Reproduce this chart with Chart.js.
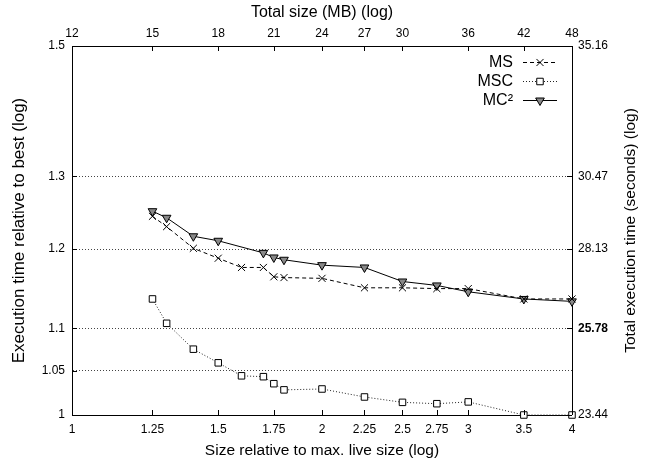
<!DOCTYPE html>
<html>
<head>
<meta charset="utf-8">
<script src="https://cdn.jsdelivr.net/npm/chart.js@4.4.1/dist/chart.umd.min.js"></script>
<style>
html, body { margin: 0; padding: 0; background: #fff; }
</style>
</head>
<body>
<canvas id="chart" width="650" height="464"></canvas>
<script>
// x: size relative to max. live size
var sizes = [1.25, 1.3, 1.4, 1.5, 1.6, 1.7, 1.75, 1.8, 2, 2.25, 2.5, 2.75, 3, 3.5, 4];
// execution time relative to best
var msTimes  = [1.244, 1.230, 1.201, 1.188, 1.176, 1.176, 1.164, 1.163, 1.162, 1.150, 1.150, 1.149, 1.149, 1.136, 1.136];
var mscTimes = [1.136, 1.106, 1.075, 1.059, 1.044, 1.043, 1.035, 1.028, 1.029, 1.020, 1.014, 1.0125, 1.0145, 1.0, 1.0];
var mc2Times = [1.251, 1.242, 1.217, 1.211, null, 1.195, 1.189, 1.186, 1.179, 1.176, 1.158, 1.153, 1.145, 1.136, 1.133];

var xTicks = [1, 1.25, 1.5, 1.75, 2, 2.25, 2.5, 2.75, 3, 3.5, 4];
var topTicks = [12, 15, 18, 21, 24, 27, 30, 36, 42, 48];
var yTicks = [1, 1.05, 1.1, 1.2, 1.3, 1.5];
var rightTicks = [23.44, 25.78, 28.13, 30.47, 35.16];

var FONT = "'Liberation Sans', Arial, sans-serif";
Chart.defaults.font.family = FONT;
Chart.defaults.color = '#000';

function points(ys) {
    var out = [];
    for (var i = 0; i < sizes.length; i++) {
        if (ys[i] !== null) out.push({x: sizes[i], y: ys[i]});
    }
    return out;
}

function setTicks(list) {
    return function(scale) {
        scale.ticks = list.map(function(v) { return {value: v}; });
    };
}

// gnuplot style ticks pointing into the plot
var innerTicks = {
    id: 'innerTicks',
    afterDatasetsDraw: function(chart) {
        var ctx = chart.ctx, a = chart.chartArea, len = 5;
        ctx.save();
        ctx.strokeStyle = '#000';
        ctx.lineWidth = 1;
        ctx.beginPath();
        chart.scales.x.ticks.forEach(function(t) {
            var p = Math.round(chart.scales.x.getPixelForValue(t.value)) + 0.5;
            ctx.moveTo(p, a.bottom); ctx.lineTo(p, a.bottom - len);
        });
        chart.scales.x2.ticks.forEach(function(t) {
            var p = Math.round(chart.scales.x2.getPixelForValue(t.value)) + 0.5;
            ctx.moveTo(p, a.top); ctx.lineTo(p, a.top + len);
        });
        chart.scales.y.ticks.forEach(function(t) {
            var p = Math.round(chart.scales.y.getPixelForValue(t.value)) + 0.5;
            ctx.moveTo(a.left, p); ctx.lineTo(a.left + len, p);
        });
        chart.scales.y2.ticks.forEach(function(t) {
            var p = Math.round(chart.scales.y2.getPixelForValue(t.value)) + 0.5;
            ctx.moveTo(a.right, p); ctx.lineTo(a.right - len, p);
        });
        ctx.stroke();
        ctx.restore();
    }
};

// key in the top right corner, text left of the sample
var keyBox = {
    id: 'keyBox',
    afterDatasetsDraw: function(chart) {
        var ctx = chart.ctx;
        var textX = 513, x1 = 523, x2 = 557, y0 = 62, step = 19;
        ctx.save();
        ctx.font = '16px ' + FONT;
        ctx.textAlign = 'right';
        ctx.textBaseline = 'middle';
        chart.data.datasets.forEach(function(ds, i) {
            var y = y0 + i * step;
            ctx.fillStyle = '#000';
            ctx.fillText(ds.label, textX, y + 1);
            ctx.strokeStyle = ds.borderColor;
            ctx.lineWidth = 1;
            ctx.setLineDash(ds.borderDash || []);
            ctx.beginPath();
            ctx.moveTo(x1, y + 0.5); ctx.lineTo(x2, y + 0.5);
            ctx.stroke();
            ctx.setLineDash([]);
            ctx.fillStyle = ds.pointBackgroundColor;
            ctx.strokeStyle = ds.pointBorderColor;
            ctx.lineWidth = ds.pointBorderWidth;
            Chart.helpers.drawPoint(ctx, {
                pointStyle: ds.pointStyle, radius: ds.pointRadius,
                rotation: ds.pointRotation || 0, borderWidth: ds.pointBorderWidth
            }, (x1 + x2) / 2, y + 0.5);
        });
        ctx.restore();
    }
};

// right axis title, reading bottom to top
var rightTitle = {
    id: 'rightTitle',
    afterDraw: function(chart) {
        var ctx = chart.ctx, a = chart.chartArea;
        ctx.save();
        ctx.translate(631, (a.top + a.bottom) / 2);
        ctx.rotate(-Math.PI / 2);
        ctx.font = '15.5px ' + FONT;
        ctx.fillStyle = '#000';
        ctx.textAlign = 'center';
        ctx.textBaseline = 'middle';
        ctx.fillText('Total execution time (seconds) (log)', 0, 0);
        ctx.restore();
    }
};

new Chart(document.getElementById('chart'), {
    type: 'line',
    data: {
        datasets: [
            {
                label: 'MS', data: points(msTimes),
                borderColor: '#000', borderWidth: 1, borderDash: [4, 3],
                pointStyle: 'crossRot', pointRadius: 5, pointBorderWidth: 1,
                pointBorderColor: '#000', pointBackgroundColor: '#000',
                clip: false, tension: 0
            },
            {
                label: 'MSC', data: points(mscTimes),
                borderColor: '#222', borderWidth: 1, borderDash: [1, 2],
                pointStyle: 'rect', pointRadius: 4.6, pointBorderWidth: 1,
                pointBorderColor: '#000', pointBackgroundColor: '#fff',
                clip: false, tension: 0
            },
            {
                label: 'MC\u00b2', data: points(mc2Times),
                borderColor: '#000', borderWidth: 1,
                pointStyle: 'triangle', pointRotation: 180, pointRadius: 5, pointBorderWidth: 1,
                pointBorderColor: '#000', pointBackgroundColor: '#888',
                clip: false, tension: 0
            }
        ]
    },
    options: {
        responsive: false,
        animation: false,
        layout: { padding: 0 },
        plugins: { legend: { display: false }, tooltip: { enabled: false } },
        scales: {
            x: {
                type: 'logarithmic', position: 'bottom', min: 1, max: 4, bounds: 'data',
                afterBuildTicks: setTicks(xTicks),
                afterFit: function(s) { s.height = 49; },
                grid: { display: false, drawTicks: false },
                border: { display: true, color: '#000', width: 1 },
                ticks: { autoSkip: false, maxRotation: 0, padding: 7, font: { size: 12 },
                         callback: function(v) { return String(v); } },
                title: { display: true, text: 'Size relative to max. live size (log)',
                         font: { size: 15.5 }, padding: { top: 0, bottom: 4 } }
            },
            x2: {
                type: 'logarithmic', position: 'top', min: 12, max: 48, bounds: 'data',
                afterBuildTicks: setTicks(topTicks),
                afterFit: function(s) { s.height = 46; },
                grid: { display: false, drawTicks: false },
                border: { display: true, color: '#000', width: 1 },
                ticks: { autoSkip: false, maxRotation: 0, padding: 5, font: { size: 12 },
                         callback: function(v) { return String(v); } },
                title: { display: true, text: 'Total size (MB) (log)',
                         font: { size: 16 }, padding: { top: 3, bottom: 0 } }
            },
            y: {
                type: 'logarithmic', position: 'left', min: 1, max: 1.5, bounds: 'data',
                afterBuildTicks: setTicks(yTicks),
                afterFit: function(s) { s.width = 72; },
                grid: {
                    display: true, drawOnChartArea: true, drawTicks: false, lineWidth: 1,
                    color: function(c) {
                        var v = c.tick && c.tick.value;
                        return (v === 1 || v === 1.5) ? 'rgba(0,0,0,0)' : '#444';
                    }
                },
                border: { display: true, color: '#000', width: 1, dash: [1, 2] },
                ticks: { autoSkip: false, padding: 7, font: { size: 12 },
                         callback: function(v) { return String(v); } },
                title: { display: true, text: 'Execution time relative to best (log)',
                         font: { size: 17 }, padding: { top: 9, bottom: 0 } }
            },
            y2: {
                type: 'logarithmic', position: 'right', min: 23.44, max: 35.16, bounds: 'data',
                afterBuildTicks: setTicks(rightTicks),
                afterFit: function(s) { s.width = 78; },
                grid: { display: false, drawTicks: false },
                border: { display: true, color: '#000', width: 1 },
                ticks: {
                    autoSkip: false, padding: 6,
                    font: function(c) { return { size: 12, weight: c.index === 1 ? 'bold' : 'normal' }; },
                    callback: function(v) { return v.toFixed(2); }
                }
            }
        }
    },
    plugins: [innerTicks, keyBox, rightTitle]
});
</script>
</body>
</html>
